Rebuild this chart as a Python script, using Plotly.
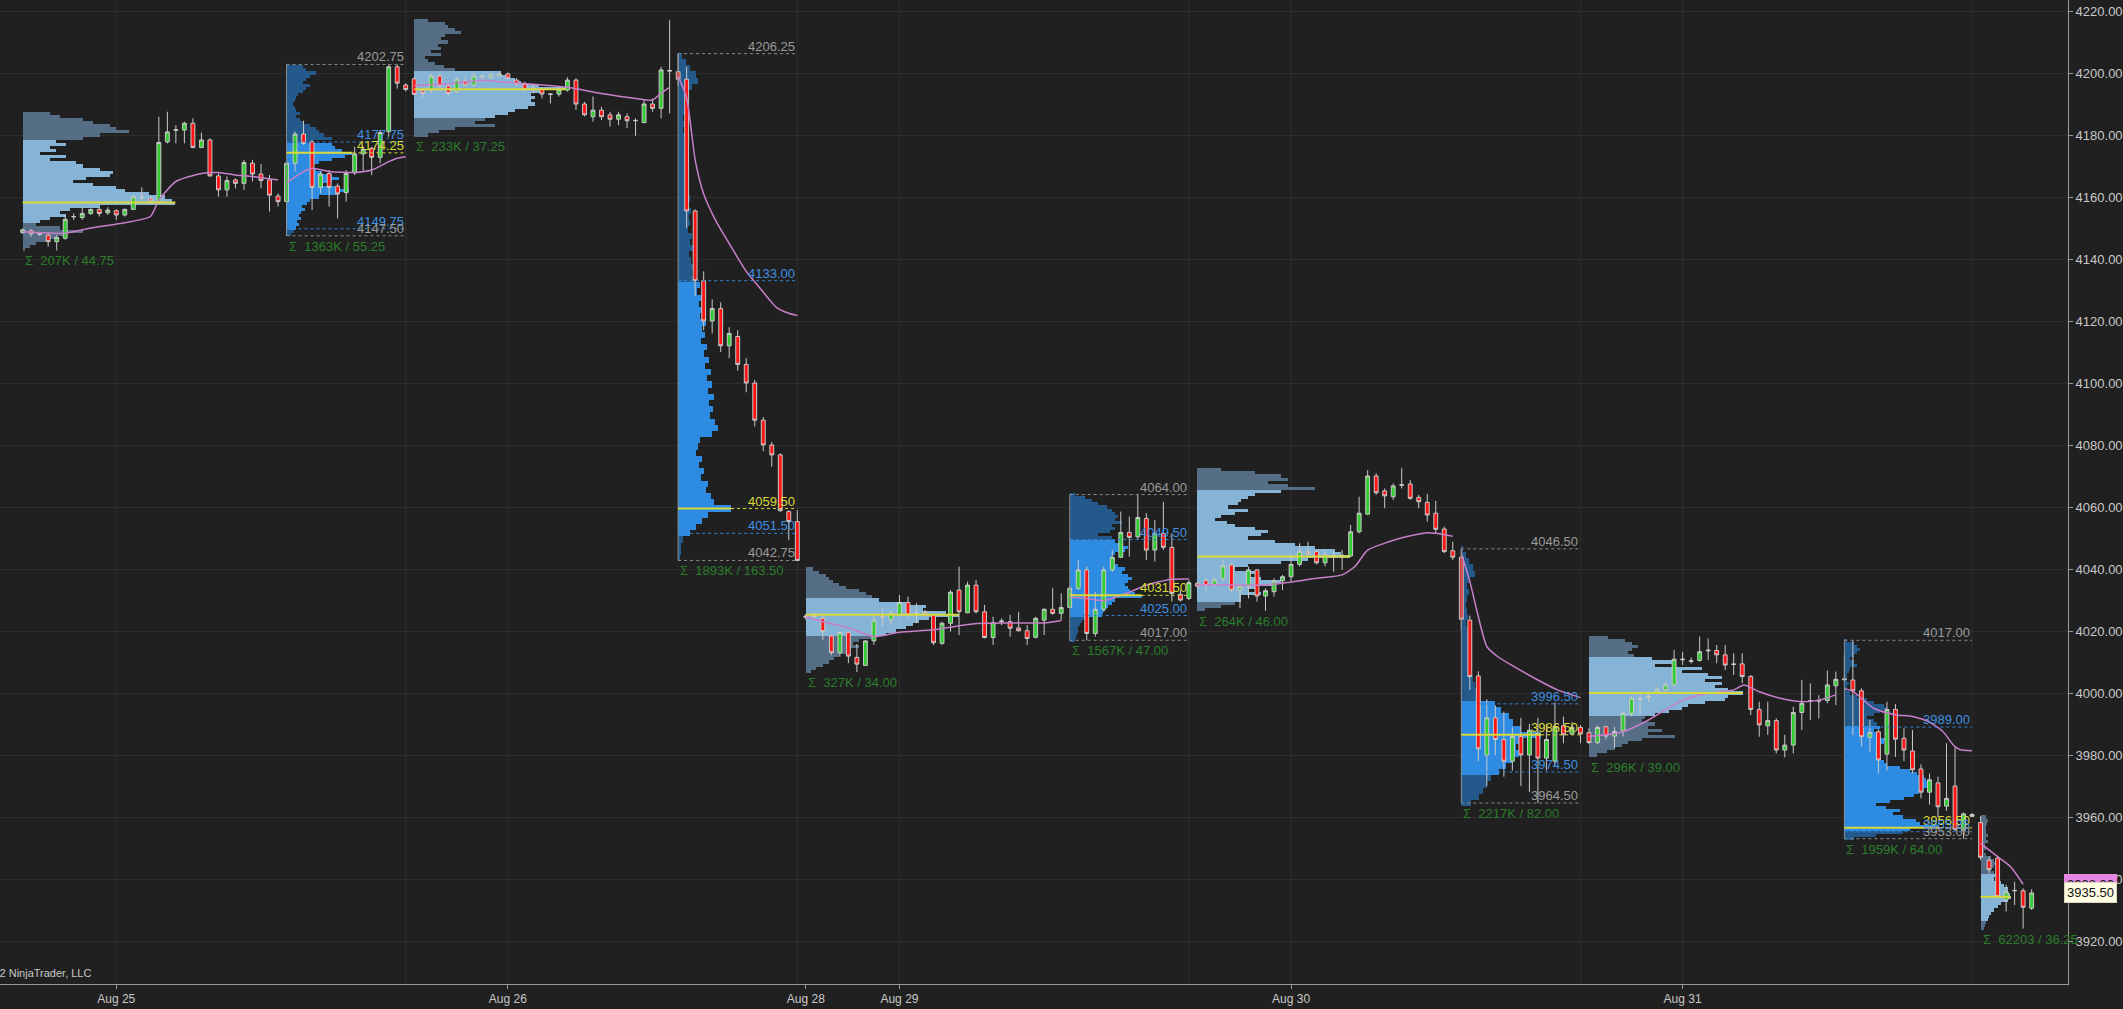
import plotly.graph_objects as go

# ---------------- data (30-minute ES bars, index = bar number) ----------------
bar_open = [
    # ETH Aug 24-25
    4148.5, 4149.1, 4148.3, 4147.7, 4145.6, 4146.7, 4153.6, 4153.4, 4154.7, 4156.0, 4154.9, 4155.6, 4154.2, 4156.0, 4159.8, 4159.6,
    4158.5, 4177.8, 4181.5, 4181.6, 4183.8, 4176.0, 4178.4, 4166.8, 4162.3, 4165.5, 4164.4, 4170.9, 4167.4, 4165.5, 4160.3,
    # RTH Aug 25
    4158.5, 4170.9, 4180.3, 4177.8, 4163.1, 4167.6, 4163.5, 4161.4, 4167.8, 4173.9, 4175.7, 4172.8, 4181.1, 4202.0, 4196.1,
    # ETH Aug 25-26
    4198.1, 4194.3, 4194.3, 4199.0, 4195.8, 4194.0, 4197.5, 4196.1, 4198.8, 4198.5, 4199.1, 4199.7, 4197.7, 4196.4, 4195.1, 4194.7,
    4193.1, 4193.2, 4194.5, 4197.7, 4190.0, 4185.9, 4188.0, 4186.5, 4185.1, 4185.9, 4184.6, 4184.0, 4190.0, 4188.6, 4200.6,
    # RTH Aug 26
    4200.4, 4198.0, 4155.5, 4133.0, 4120.0, 4124.0, 4112.0, 4115.0, 4106.0, 4100.0, 4088.0, 4080.0, 4076.8, 4058.5, 4055.3,
    # ETH Aug 28-29
    4024.4, 4025.0, 4024.0, 4018.4, 4013.0, 4019.5, 4011.5, 4008.9, 4016.8, 4024.5, 4023.6, 4025.2, 4029.2, 4025.6, 4026.1, 4025.2,
    4016.0, 4022.5, 4033.2, 4025.9, 4034.8, 4026.2, 4017.9, 4023.0, 4023.0, 4021.0, 4020.1, 4018.0, 4023.5, 4027.0, 4025.7,
    # RTH Aug 29
    4027.6, 4033.8, 4039.7, 4019.2, 4027.0, 4039.7, 4043.8, 4051.8, 4050.4, 4056.3, 4046.1, 4051.5, 4047.0, 4031.8, 4030.5,
    # ETH Aug 29-30
    4035.4, 4036.3, 4035.0, 4037.0, 4041.3, 4033.2, 4034.3, 4039.7, 4031.3, 4032.7, 4036.2, 4037.5, 4041.5, 4045.5, 4045.6, 4042.0,
    4044.2, 4044.2, 4044.2, 4052.0, 4057.7, 4070.0, 4065.2, 4063.3, 4067.0, 4067.4, 4063.1, 4061.5, 4058.0, 4052.9, 4045.9,
    # RTH Aug 30
    4043.8, 4023.5, 4005.5, 3980.0, 3992.0, 3985.0, 3978.0, 3986.0, 3980.0, 3987.0, 3979.0, 3978.0, 3989.4, 3986.8, 3988.9,
    # ETH Aug 30-31
    3987.2, 3984.0, 3989.1, 3986.1, 3987.8, 3993.4, 3997.9, 3998.5, 4000.4, 4001.0, 4002.6, 4010.7, 4010.2, 4010.5, 4013.6,
    4013.7, 4012.3, 4009.4, 4009.4, 4005.3, 3994.7, 3989.4, 3991.1, 3981.6, 3983.2, 3993.7, 3997.3, 3997.6, 3997.6, 4002.3,
    # RTH Aug 31
    4004.3, 4004.2, 4000.7, 3985.7, 3987.5, 3980.3, 3994.7, 3985.4, 3981.3, 3975.5, 3968.0, 3971.0, 3963.5, 3970.0, 3955.8, 3960.8,
    # ETH Aug 31 evening
    3958.2, 3946.0, 3946.7, 3933.2, 3936.2, 3936.2, 3930.6,
]
bar_high = [
    4149.9, 4149.6, 4148.8, 4148.3, 4147.7, 4154.2, 4154.7, 4156.9, 4156.3, 4156.7, 4156.7, 4156.0, 4156.3, 4160.7, 4163.1, 4160.1,
    4185.9, 4187.5, 4183.2, 4184.3, 4185.4, 4180.8, 4178.9, 4167.6, 4166.6, 4166.0, 4172.0, 4172.0, 4170.6, 4167.1, 4161.2,
    4171.4, 4181.1, 4184.6, 4178.4, 4168.2, 4168.7, 4164.4, 4168.7, 4176.2, 4176.2, 4176.2, 4181.6, 4202.75, 4202.6, 4196.7,
    4198.8, 4195.0, 4199.8, 4200.0, 4196.5, 4198.8, 4198.6, 4200.0, 4199.4, 4200.0, 4200.2, 4200.2, 4198.3, 4197.2, 4196.1, 4195.4,
    4193.5, 4195.4, 4198.6, 4198.3, 4190.7, 4192.4, 4189.1, 4187.5, 4187.5, 4187.0, 4185.4, 4191.3, 4191.8, 4202.0, 4217.0,
    4206.25, 4202.0, 4156.0, 4136.0, 4127.0, 4126.0, 4118.0, 4117.0, 4108.0, 4101.0, 4089.0, 4081.0, 4077.3, 4059.0, 4059.0,
    4025.5, 4026.0, 4025.7, 4018.7, 4019.8, 4020.0, 4015.8, 4017.1, 4025.2, 4027.3, 4026.5, 4031.6, 4031.1, 4028.9, 4026.8, 4025.7,
    4023.0, 4033.2, 4040.75, 4035.9, 4036.5, 4028.4, 4024.6, 4024.1, 4025.2, 4026.2, 4021.9, 4024.6, 4027.3, 4033.8, 4032.1,
    4034.8, 4042.9, 4040.8, 4032.7, 4040.8, 4046.1, 4058.5, 4056.9, 4064.0, 4058.0, 4055.8, 4061.7, 4051.5, 4033.2, 4036.5,
    4036.0, 4037.0, 4037.5, 4043.0, 4042.0, 4034.8, 4040.8, 4039.9, 4033.8, 4037.0, 4038.1, 4044.5, 4048.3, 4048.8, 4046.0, 4046.1,
    4045.6, 4046.1, 4054.2, 4063.3, 4071.9, 4070.9, 4066.0, 4067.6, 4072.5, 4068.7, 4063.9, 4064.2, 4062.0, 4053.7, 4048.8,
    4046.5, 4025.0, 4007.0, 3998.0, 3996.0, 3994.0, 3989.0, 3992.0, 3990.0, 3992.0, 3990.0, 3997.0, 3992.4, 3990.7, 3989.7,
    3988.6, 3989.5, 3989.4, 3989.1, 3994.0, 3999.0, 4000.4, 4000.0, 4002.0, 4003.5, 4013.9, 4013.3, 4011.5, 4018.25, 4017.6,
    4015.5, 4015.5, 4012.8, 4012.8, 4005.8, 3997.2, 3997.2, 3991.8, 3986.5, 3995.6, 4004.2, 4003.1, 3999.3, 4007.2, 4006.9,
    4012.3, 4017.0, 4001.5, 3991.3, 3988.3, 3997.2, 3996.4, 3988.6, 3988.1, 3977.0, 3974.0, 3973.0, 3983.8, 3982.7, 3961.5, 3961.3,
    3960.25, 3947.2, 3947.2, 3938.1, 3939.1, 3937.0, 3936.7,
]
bar_low = [
    4148.1, 4147.2, 4147.5, 4144.0, 4142.75, 4146.2, 4152.6, 4152.6, 4154.2, 4153.7, 4154.2, 4152.6, 4153.7, 4155.8, 4159.0, 4158.0,
    4158.0, 4177.3, 4177.3, 4177.3, 4175.7, 4175.7, 4166.6, 4160.1, 4160.1, 4162.8, 4162.3, 4165.0, 4162.8, 4155.3, 4156.9,
    4147.5, 4168.2, 4176.8, 4155.8, 4161.2, 4156.9, 4153.1, 4158.5, 4167.1, 4168.2, 4167.1, 4170.9, 4179.4, 4195.0, 4194.0,
    4192.9, 4192.0, 4193.5, 4195.0, 4192.3, 4193.5, 4195.5, 4195.5, 4197.8, 4198.0, 4198.8, 4197.9, 4195.6, 4194.0, 4193.4, 4191.8,
    4190.2, 4192.4, 4194.0, 4188.1, 4186.0, 4184.3, 4184.8, 4182.7, 4183.2, 4182.2, 4179.75, 4183.8, 4187.5, 4185.4, 4187.0,
    4196.0, 4150.0, 4128.0, 4117.0, 4116.0, 4110.0, 4108.0, 4104.0, 4097.0, 4086.0, 4078.0, 4073.0, 4058.5, 4049.3, 4042.75,
    4023.6, 4023.5, 4017.1, 4012.2, 4011.7, 4009.6, 4006.75, 4008.7, 4015.5, 4021.4, 4022.0, 4024.6, 4024.1, 4022.5, 4025.0, 4015.5,
    4015.5, 4019.8, 4018.7, 4025.7, 4025.7, 4017.6, 4015.5, 4021.9, 4018.2, 4019.8, 4015.5, 4017.6, 4018.7, 4025.2, 4023.5,
    4027.3, 4033.2, 4017.0, 4018.2, 4026.2, 4039.0, 4043.5, 4044.0, 4049.4, 4042.9, 4042.4, 4046.1, 4029.5, 4029.5, 4030.0,
    4033.5, 4033.0, 4034.0, 4036.0, 4032.5, 4027.3, 4030.5, 4029.5, 4026.5, 4031.1, 4033.2, 4035.9, 4040.8, 4044.0, 4041.5, 4040.8,
    4039.1, 4039.7, 4044.0, 4051.5, 4057.4, 4063.9, 4059.6, 4062.3, 4066.0, 4062.3, 4059.6, 4055.3, 4051.5, 4045.1, 4042.9,
    4020.3, 4001.0, 3978.0, 3970.0, 3980.0, 3973.0, 3975.0, 3970.0, 3968.0, 3964.5, 3975.0, 3976.5, 3983.8, 3986.5, 3983.8,
    3983.6, 3983.5, 3985.0, 3982.2, 3986.0, 3992.5, 3992.9, 3997.0, 3999.5, 4000.0, 4002.0, 4009.0, 4009.5, 4010.1, 4010.6,
    4009.6, 4007.4, 4005.8, 4003.1, 3992.9, 3985.9, 3986.5, 3980.5, 3979.25, 3980.5, 3988.1, 3991.3, 3991.8, 3996.7, 3996.1,
    4003.5, 3986.4, 3982.7, 3981.1, 3974.0, 3975.0, 3979.4, 3978.0, 3974.1, 3966.0, 3964.0, 3960.0, 3962.0, 3955.5, 3953.0, 3960.0,
    3946.1, 3941.8, 3933.8, 3929.5, 3931.6, 3924.0, 3930.0,
]
bar_close = [
    4149.4, 4148.1, 4147.9, 4145.6, 4147.0, 4152.8, 4153.7, 4154.7, 4156.0, 4154.7, 4155.8, 4154.2, 4156.0, 4160.1, 4159.9, 4158.7,
    4177.6, 4181.0, 4181.7, 4183.8, 4176.0, 4178.4, 4166.8, 4162.3, 4165.3, 4164.4, 4171.1, 4167.4, 4165.3, 4160.6, 4158.5,
    4170.9, 4180.3, 4177.3, 4163.1, 4167.4, 4163.1, 4161.0, 4167.6, 4173.9, 4175.4, 4172.8, 4180.8, 4202.0, 4196.7, 4194.7,
    4193.1, 4193.4, 4199.0, 4195.8, 4193.4, 4198.0, 4196.1, 4199.0, 4199.0, 4199.4, 4199.7, 4198.3, 4196.4, 4194.7, 4195.0, 4193.2,
    4193.2, 4194.7, 4197.7, 4190.0, 4186.5, 4188.0, 4185.9, 4185.1, 4186.5, 4184.6, 4184.7, 4190.0, 4188.6, 4201.0, 4200.8,
    4198.0, 4155.5, 4133.0, 4120.0, 4124.0, 4112.0, 4116.0, 4106.0, 4100.0, 4088.0, 4080.0, 4076.8, 4058.8, 4055.3, 4042.75,
    4024.8, 4024.6, 4019.8, 4013.0, 4019.5, 4011.9, 4009.3, 4016.8, 4023.5, 4024.7, 4025.7, 4029.2, 4025.2, 4025.7, 4025.7, 4016.2,
    4022.5, 4032.5, 4026.2, 4034.8, 4026.2, 4017.9, 4022.7, 4023.2, 4020.9, 4020.1, 4017.6, 4024.1, 4027.0, 4025.7, 4027.6,
    4033.8, 4039.7, 4019.2, 4027.0, 4039.7, 4043.8, 4051.8, 4050.2, 4056.6, 4046.1, 4051.5, 4047.0, 4032.1, 4030.0, 4035.6,
    4034.5, 4034.7, 4036.5, 4041.0, 4033.2, 4034.3, 4039.7, 4031.3, 4033.0, 4036.2, 4037.5, 4041.5, 4045.6, 4045.0, 4042.0, 4044.5,
    4044.3, 4044.4, 4052.0, 4058.0, 4070.0, 4064.6, 4063.6, 4066.8, 4067.2, 4062.8, 4061.7, 4057.4, 4052.8, 4045.6, 4043.8,
    4023.8, 4005.3, 3982.0, 3992.0, 3985.0, 3978.0, 3986.0, 3980.0, 3988.0, 3979.0, 3985.0, 3989.2, 3986.5, 3988.9, 3986.8,
    3984.0, 3988.9, 3986.1, 3987.6, 3993.4, 3998.3, 3998.2, 3999.0, 4001.2, 4002.6, 4010.9, 4010.9, 4010.4, 4013.3, 4013.8,
    4012.3, 4009.0, 4009.2, 4005.3, 3994.7, 3989.7, 3991.1, 3981.6, 3983.2, 3993.7, 3996.7, 3997.5, 3997.4, 4002.6, 4004.4,
    4004.5, 4000.7, 3985.9, 3987.2, 3978.4, 3994.7, 3985.1, 3981.6, 3975.2, 3968.0, 3972.0, 3963.3, 3966.0, 3956.0, 3961.0, 3960.2,
    3947.0, 3943.0, 3934.3, 3935.9, 3936.3, 3930.9, 3935.5,
]

# session VWAP line: (bar position, price) per session
vwap_x = [
    [0, 2, 5, 8, 12, 15, 16, 18, 21, 23, 25, 27, 30],
    [31, 33, 34, 36, 39, 41, 43, 44, 45],
    [46, 50, 54, 56, 60, 64, 68, 72, 74, 75, 76],
    [77, 78, 79, 80, 81.5, 83, 85, 86.5, 88.5, 90, 91],
    [92, 94, 97, 100, 103, 107, 112, 116, 120, 122],
    [123, 125, 127, 130, 132, 135, 137],
    [138, 142, 145.5, 148, 152, 155, 156.5, 158, 160.5, 162.5, 165, 166, 168],
    [169, 170, 171, 172, 173.3, 175.2, 178, 180.3, 183],
    [184, 186, 188, 191, 195, 198, 201, 202.2, 204, 206.5, 209, 211, 213],
    [214, 215, 217.5, 220, 222, 224, 225.6, 226.8, 227.6, 229],
    [230, 232, 233.5, 235],
]
vwap_y = [
    [4148.8, 4148.5, 4148.3, 4150.0, 4151.7, 4153.7, 4159.0, 4165.0, 4167.6, 4167.9, 4167.1, 4166.6, 4165.5],
    [4164.6, 4168.2, 4169.3, 4168.2, 4167.9, 4168.7, 4171.4, 4172.5, 4173.0],
    [4196.0, 4196.5, 4197.7, 4197.2, 4196.4, 4195.4, 4193.4, 4191.8, 4191.3, 4193.5, 4195.4],
    [4199.0, 4192.0, 4172.0, 4161.0, 4152.0, 4145.0, 4136.0, 4131.0, 4124.5, 4122.5, 4121.8],
    [4024.5, 4023.0, 4021.0, 4018.2, 4019.6, 4020.4, 4022.4, 4022.6, 4022.6, 4023.4],
    [4031.0, 4030.5, 4029.8, 4032.5, 4034.8, 4036.7, 4036.8],
    [4034.8, 4034.8, 4034.8, 4035.4, 4037.0, 4038.1, 4040.8, 4046.1, 4048.8, 4050.4, 4051.7, 4051.5, 4050.6],
    [4045.0, 4036.0, 4024.6, 4015.0, 4011.7, 4008.5, 4004.2, 4001.0, 3998.5],
    [3986.0, 3986.5, 3987.5, 3991.3, 3997.7, 3999.9, 4001.0, 4002.6, 4000.4, 3998.3, 3997.2, 3997.7, 3999.4],
    [4001.5, 4000.5, 3995.0, 3993.0, 3992.4, 3990.6, 3987.5, 3983.2, 3981.7, 3981.4],
    [3951.5, 3947.2, 3944.0, 3938.3],
]

tick_index = [11, 57, 92, 103, 149, 195]
tick_text = ["Aug 25", "Aug 26", "Aug 28", "Aug 29", "Aug 30", "Aug 31"]
grid_index = [11, 45, 57, 91, 103, 137, 149, 183, 195, 229]

# sessions
sess_first = [0, 31, 46, 77, 92, 123, 138, 169, 184, 214, 230]
sess_last = [30, 45, 76, 91, 122, 137, 168, 183, 213, 229, 236]
sess_kind = ["ETH", "RTH", "ETH", "RTH", "ETH", "RTH", "ETH", "RTH", "ETH", "RTH", "ETH"]
sess_volume = ["207K", "1363K", "233K", "1893K", "327K", "1567K", "264K", "2217K", "296K", "1959K", "62203"]
sess_range = [44.75, 55.25, 37.25, 163.50, 34.00, 47.00, 46.00, 82.00, 39.00, 64.00, 36.25]

prof_high = [4187.50, 4202.75, 4217.00, 4206.25, 4040.75, 4064.00, 4072.50, 4046.50, 4018.25, 4017.00, 3960.25]
prof_low = [4142.75, 4147.50, 4179.75, 4042.75, 4006.75, 4017.00, 4026.50, 3964.50, 3979.25, 3953.00, 3924.00]
prof_poc = [4158.25, 4174.25, 4194.75, 4059.50, 4025.25, 4031.50, 4044.00, 3986.50, 4000.00, 3956.50, 3934.25]
prof_vah = [4178.50, 4177.75, 4200.50, 4133.00, 4030.50, 4049.50, 4065.50, 3996.50, 4011.50, 3989.00, 3941.50]
prof_val = [4151.50, 4149.75, 4185.50, 4051.50, 4018.25, 4025.00, 4029.50, 3974.50, 3992.50, 3955.25, 3927.00]
prof_top = [4187, 4202, 4217, 4205.5, 4040, 4064, 4072, 4046.5, 4018, 4017, 3960]   # price of first row
prof_step = [1, 1, 1, 2, 1, 1, 1, 2, 1, 1, 1]                                        # row height (points)

# relative volume per price row (top row first)
vol_A = [27, 37, 60, 70, 87, 93, 107, 77, 60, 33, 43, 27, 33, 17, 43, 27, 53, 60, 77, 90, 87, 63, 50, 70, 93, 103, 127, 143,
         150, 153, 77, 47, 37, 43, 27, 17, 13, 37, 60, 43, 33, 27, 13, 7, 2]
vol_B = [16, 19, 29, 23, 19, 16, 23, 19, 16, 11, 9, 8, 6, 8, 9, 13, 9, 13, 16, 23, 29, 33, 38, 46, 26, 46, 49, 56, 66, 59,
         46, 33, 26, 29, 36, 46, 53, 46, 33, 49, 63, 53, 33, 23, 20, 15, 18, 14, 12, 14, 10, 12, 9, 7, 4]
vol_C = [14, 31, 34, 41, 47, 31, 27, 34, 24, 27, 17, 27, 11, 14, 21, 30, 41, 87, 94, 101, 107, 125, 152, 130, 117, 121, 117,
         121, 114, 101, 94, 81, 71, 61, 81, 41, 25, 14]
vol_D = [4, 8, 12, 18, 20, 14, 10, 8, 6, 7, 5, 6, 5, 7, 6, 8, 7, 9, 8, 10, 8, 11, 9, 12, 10, 13, 11, 12, 10, 14,
         12, 15, 11, 13, 16, 14, 18, 22, 19, 24, 21, 26, 22, 28, 24, 27, 23, 29, 26, 31, 27, 33, 29, 34, 30, 36, 31, 35, 32, 37,
         40, 34, 22, 20, 18, 24, 21, 26, 23, 30, 28, 33, 36, 53, 30, 24, 18, 12, 5, 3, 3, 2]
vol_E = [7, 13, 20, 23, 27, 33, 40, 53, 60, 66, 73, 100, 120, 117, 140, 153, 123, 113, 107, 100, 90, 80, 67, 53, 47, 53, 43,
         40, 33, 28, 23, 17, 10, 5]
vol_F = [5, 15, 22, 28, 37, 42, 45, 48, 45, 52, 42, 45, 40, 28, 42, 45, 52, 58, 55, 45, 42, 45, 42, 48, 55, 52, 58, 62, 58,
         55, 58, 60, 65, 72, 45, 42, 38, 35, 33, 32, 15, 12, 10, 8, 8, 7, 6, 5]
vol_G = [24, 58, 84, 91, 71, 91, 118, 84, 58, 51, 44, 41, 31, 51, 38, 24, 18, 30, 38, 58, 71, 64, 51, 78, 98, 118, 138, 144,
         153, 111, 84, 51, 38, 58, 51, 64, 84, 78, 58, 51, 64, 44, 44, 38, 24, 8]
vol_H = [2, 5, 8, 12, 14, 9, 6, 8, 6, 5, 6, 7, 5, 6, 8, 9, 7, 8, 10, 9, 10, 12, 14, 16, 20, 34, 40, 48, 52, 60,
         80, 62, 55, 58, 52, 45, 38, 30, 26, 22, 18, 10]
vol_I = [19, 36, 43, 49, 43, 39, 45, 63, 86, 66, 113, 93, 119, 133, 116, 133, 126, 139, 154, 139, 136, 116, 99, 93, 80, 66,
         56, 53, 66, 59, 73, 59, 86, 53, 39, 33, 26, 18, 8]
vol_J = [3, 10, 13, 16, 13, 10, 6, 10, 13, 6, 5, 3, 3, 3, 5, 3, 3, 6, 13, 23, 30, 40, 43, 36, 30, 23, 30, 33, 36, 30,
         36, 33, 43, 40, 36, 33, 36, 33, 36, 40, 43, 56, 66, 73, 80, 82, 85, 88, 80, 75, 70, 60, 46, 32, 42, 56, 49, 59, 72, 76,
         95, 66, 59, 32, 10]
vol_K = [5, 7, 6, 5, 5, 5, 7, 5, 7, 4, 5, 3, 5, 10, 13, 17, 13, 10, 13, 17, 13, 20, 23, 27, 27, 29, 30, 27, 20, 17, 13, 10,
         8, 7, 5, 4, 3]
prof_vol = [vol_A, vol_B, vol_C, vol_D, vol_E, vol_F, vol_G, vol_H, vol_I, vol_J, vol_K]

last_price = 3935.50
vwap_last = 3938.30

# ---------------- style ----------------
X_MIN, X_MAX = -2.66, 240.27
Y_MIN, Y_MAX = 3906.13, 4223.55
PLOT_W_PX = 2071
PX = PLOT_W_PX / (X_MAX - X_MIN)          # pixels per bar
prof_maxw_px = [153, 66, 152, 53, 153, 72, 153, 80, 154, 95, 30]

FONT = "Liberation Sans Narrow, Arial Narrow, Liberation Sans, Arial, sans-serif"
BG = "#202020"
GRID = "#2d2d2d"
AXIS = "#9a9a9a"
TXT = "#c8c8c8"
UP = "#33cc33"
DN = "#ff1414"
WICK = "#c9c9c9"
VWAP_C = "#c77fc9"
YEL = "#d9d93a"
BLUE_T = "#3f8fe0"
GREY_T = "#9a9a9a"
SIG = "#2b7d2b"
RTH_VA = "#2d8be2"
RTH_OUT = "#24598c"
ETH_VA = "rgba(158,214,255,0.82)"
ETH_OUT = "rgba(98,128,158,0.82)"

n = len(bar_open)
xs = list(range(n))
fig = go.Figure()


def profile_trace(s):
    vols = prof_vol[s]
    levels = [prof_top[s] - k * prof_step[s] for k in range(len(vols))]
    vmax = max(vols)
    widths = [v / vmax * prof_maxw_px[s] / PX for v in vols]
    eth = sess_kind[s] == "ETH"
    cols = []
    for p in levels:
        inside = prof_val[s] <= p <= prof_vah[s]
        if eth:
            cols.append(ETH_VA if inside else ETH_OUT)
        else:
            cols.append(RTH_VA if inside else RTH_OUT)
    return go.Bar(orientation="h", y=levels, x=widths, base=sess_first[s], width=prof_step[s],
                  marker=dict(color=cols, line=dict(width=0)), hoverinfo="skip", showlegend=False)


# RTH profiles sit beneath the candles
for s in range(len(sess_first)):
    if sess_kind[s] == "RTH":
        fig.add_trace(profile_trace(s))

fig.add_trace(go.Candlestick(
    x=xs, open=bar_open, high=bar_high, low=bar_low, close=bar_close,
    increasing=dict(line=dict(color=WICK, width=1), fillcolor=UP),
    decreasing=dict(line=dict(color=WICK, width=1), fillcolor=DN),
    whiskerwidth=0, hoverinfo="skip", showlegend=False))

# session VWAP line
vx, vy = [], []
for s in range(len(vwap_x)):
    vx += vwap_x[s] + [None]
    vy += vwap_y[s] + [None]
fig.add_trace(go.Scatter(x=vx, y=vy, mode="lines", line=dict(color=VWAP_C, width=1.5, shape="spline", smoothing=0.6),
                         hoverinfo="skip", showlegend=False))

# ETH profiles drawn semi-transparent over the candles
for s in range(len(sess_first)):
    if sess_kind[s] == "ETH":
        fig.add_trace(profile_trace(s))

shapes = []
for g in grid_index:
    shapes.append(dict(type="line", xref="x", yref="paper", x0=g, x1=g, y0=0, y1=1,
                       line=dict(color=GRID, width=1), layer="below"))

annotations = []
for s in range(len(sess_first)):
    x0 = sess_first[s]
    x1 = sess_last[s]
    pocw = prof_maxw_px[s] / PX
    if sess_kind[s] == "RTH":
        shapes.append(dict(type="line", x0=x0, x1=x0, y0=prof_low[s], y1=prof_high[s],
                           line=dict(color="#8c8c8c", width=1)))
        for price, col in [(prof_high[s], "#8a8a8a"), (prof_low[s], "#8a8a8a"),
                           (prof_vah[s], "#3380d0"), (prof_val[s], "#3380d0")]:
            shapes.append(dict(type="line", x0=x0, x1=x1, y0=price, y1=price,
                               line=dict(color=col, width=1, dash="dot")))
        shapes.append(dict(type="line", x0=x0 + pocw, x1=x1, y0=prof_poc[s], y1=prof_poc[s],
                           line=dict(color=YEL, width=1, dash="dot")))
        shapes.append(dict(type="line", x0=x0, x1=x0 + pocw, y0=prof_poc[s], y1=prof_poc[s],
                           line=dict(color=YEL, width=2)))
        for price, col in [(prof_high[s], GREY_T), (prof_vah[s], BLUE_T), (prof_poc[s], YEL),
                           (prof_val[s], BLUE_T), (prof_low[s], GREY_T)]:
            annotations.append(dict(x=x1, y=price, xref="x", yref="y", text=f"{price:.2f}",
                                    showarrow=False, xanchor="right", yanchor="bottom", yshift=-2,
                                    font=dict(color=col, size=13, family=FONT)))
    else:
        shapes.append(dict(type="line", x0=x0, x1=x0 + pocw, y0=prof_poc[s], y1=prof_poc[s],
                           line=dict(color=YEL, width=2)))
    annotations.append(dict(x=x0, y=prof_low[s], xref="x", yref="y",
                            text=f"Σ  {sess_volume[s]} / {sess_range[s]:.2f}",
                            showarrow=False, xanchor="left", yanchor="top", yshift=-1,
                            font=dict(color=SIG, size=13, family=FONT)))

# right-edge price markers
annotations.append(dict(x=1.0, xref="paper", y=vwap_last, yref="y", text=f"{vwap_last:.2f}", showarrow=False,
                        xanchor="left", yanchor="middle", xshift=-4, bgcolor="#e687e6", bordercolor="#e687e6",
                        borderpad=2, font=dict(color="#111111", size=13, family=FONT)))
annotations.append(dict(x=1.0, xref="paper", y=last_price, yref="y", text=f"{last_price:.2f}", showarrow=False,
                        xanchor="left", yanchor="middle", xshift=-4, bgcolor="#fffde2", bordercolor="#d8d8c0",
                        borderpad=2, font=dict(color="#111111", size=13, family=FONT)))
# copyright (left part runs off the canvas, as in the original)
annotations.append(dict(x=93 / PLOT_W_PX, xref="paper", y=0.011, yref="paper", text="© 2022 NinjaTrader, LLC",
                        showarrow=False, xanchor="right", yanchor="middle",
                        font=dict(color=TXT, size=11, family=FONT)))

fig.update_layout(
    width=2123, height=1009,
    margin=dict(l=0, r=52, t=0, b=25),
    paper_bgcolor=BG, plot_bgcolor=BG,
    showlegend=False, barmode="overlay", bargap=0, boxgap=0.35,
    font=dict(family=FONT, color=TXT, size=13),
    xaxis=dict(range=[X_MIN, X_MAX], rangeslider=dict(visible=False), tickvals=tick_index, ticktext=tick_text,
               ticks="outside", ticklen=4, tickcolor=AXIS, showline=True, linecolor=AXIS, linewidth=1,
               showgrid=False, zeroline=False, tickfont=dict(color=TXT, size=12, family=FONT)),
    yaxis=dict(range=[Y_MIN, Y_MAX], side="right", tick0=3900, dtick=20, tickformat=".2f",
               ticks="outside", ticklen=4, tickcolor=AXIS, showline=True, linecolor=AXIS, linewidth=1,
               gridcolor=GRID, zeroline=False, tickfont=dict(color=TXT, size=13, family=FONT)),
    shapes=shapes, annotations=annotations,
)

fig.write_html("out.html", config={"displayModeBar": False},
               post_script="document.body.style.margin='0px';document.body.style.overflow='hidden';")
